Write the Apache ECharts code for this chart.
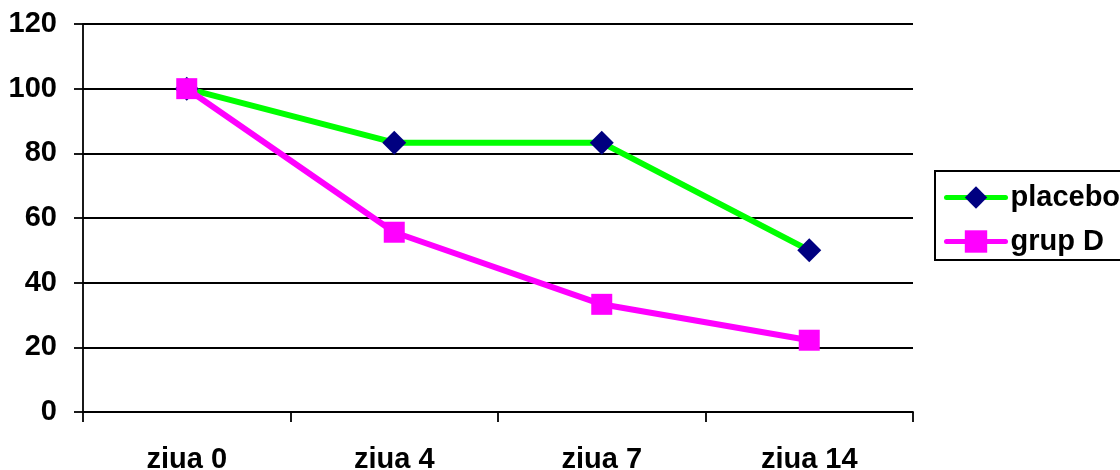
<!DOCTYPE html>
<html>
<head>
<meta charset="utf-8">
<script src="https://cdn.jsdelivr.net/npm/echarts@6/dist/echarts.min.js"></script>
<style>
  html, body { margin: 0; padding: 0; background: #fff; }
  #chart { width: 1120px; height: 470px; }
</style>
</head>
<body>
<div id="chart"></div>
<script>
// Days of observation
const categories = ['ziua 0', 'ziua 4', 'ziua 7', 'ziua 14'];
// Percentage values per group
const placebo = [100, 83.3, 83.3, 50];
const grupD = [100, 55.6, 33.3, 22.2];
// Value axis ticks
const yMin = 0, yMax = 120, yStep = 20;

const font = '"Liberation Sans", Arial, sans-serif';
const chart = echarts.init(document.getElementById('chart'), null, { renderer: 'canvas' });

chart.setOption({
  animation: false,
  backgroundColor: '#fff',
  grid: { left: 83, right: 207, top: 24, bottom: 58, containLabel: false, outerBoundsMode: 'none' },
  legend: {
    left: 935,
    top: 171,
    orient: 'vertical',
    padding: [12, 80, 4, 9],
    itemWidth: 59,
    itemHeight: 28,
    itemGap: 15,
    borderColor: '#000',
    borderWidth: 2,
    lineStyle: { width: 5, cap: 'round' },
    textStyle: { fontFamily: font, fontWeight: 'bold', fontSize: 29, lineHeight: 29, color: '#000', padding: [0, 0, 0, 0] },
    data: ['placebo', 'grup D']
  },
  xAxis: {
    type: 'category',
    data: categories,
    boundaryGap: true,
    axisLine: { lineStyle: { color: '#000', width: 1.8 } },
    axisTick: { show: true, length: 10, lineStyle: { color: '#000', width: 1.8 } },
    axisLabel: { margin: 33, fontFamily: font, fontWeight: 'bold', fontSize: 29, color: '#000' },
    splitLine: { show: false }
  },
  yAxis: {
    type: 'value',
    min: yMin,
    max: yMax,
    interval: yStep,
    axisLine: { show: true, lineStyle: { color: '#000', width: 1.8 } },
    axisTick: { show: true, length: 9, lineStyle: { color: '#000', width: 1.8 } },
    axisLabel: { margin: 26, fontFamily: font, fontWeight: 'bold', fontSize: 29, color: '#000' },
    splitLine: { show: true, lineStyle: { color: '#000', width: 1.8 } }
  },
  series: [
    {
      name: 'placebo',
      type: 'line',
      data: placebo,
      symbol: 'diamond',
      symbolSize: 24,
      lineStyle: { color: '#00ff00', width: 6 },
      itemStyle: { color: '#000080', borderWidth: 0 }
    },
    {
      name: 'grup D',
      type: 'line',
      data: grupD,
      symbol: 'rect',
      symbolSize: 21,
      lineStyle: { color: '#ff00ff', width: 6 },
      itemStyle: { color: '#ff00ff', borderWidth: 0 }
    }
  ]
});
</script>
</body>
</html>
